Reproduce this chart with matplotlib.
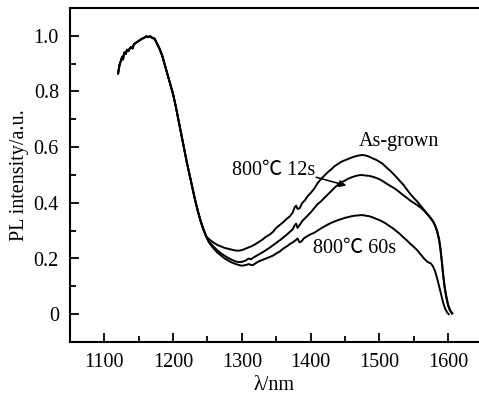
import matplotlib
matplotlib.use("Agg")
import matplotlib.pyplot as plt
from matplotlib.ticker import MultipleLocator, FixedLocator

# ---- data ----
wl_head = [1120, 1122, 1124, 1126, 1127, 1129, 1131, 1133, 1135, 1137, 1139, 1141, 1143,
           1146, 1149, 1152, 1155, 1158, 1161, 1164, 1167, 1170, 1173, 1176, 1180, 1184,
           1188, 1192, 1196, 1200, 1204, 1208, 1212, 1216, 1220, 1224, 1228, 1232, 1236,
           1240, 1244, 1248]
pl_head = [0.865, 0.895, 0.91, 0.925, 0.915, 0.94, 0.935, 0.95, 0.945, 0.955, 0.96, 0.955, 0.97,
           0.975, 0.98, 0.985, 0.99, 0.993, 0.998, 0.996, 0.998, 0.992, 0.99, 0.975, 0.955, 0.93,
           0.895, 0.86, 0.825, 0.79, 0.745, 0.695, 0.645, 0.595, 0.545, 0.50, 0.455, 0.41, 0.37,
           0.335, 0.305, 0.28]

wl_asgrown = [1252, 1256, 1260, 1265, 1270, 1275, 1280, 1285, 1290, 1295, 1300, 1305, 1310,
              1315, 1320, 1325, 1330, 1335, 1340, 1345, 1350, 1355, 1360, 1365, 1370, 1374,
              1377, 1379, 1381, 1384, 1388, 1392, 1396, 1400, 1405, 1410, 1415, 1420, 1425,
              1430, 1435, 1440, 1445, 1450, 1455, 1460, 1465, 1470, 1475, 1480, 1485, 1490,
              1495, 1500, 1505, 1510, 1515, 1520, 1525, 1530, 1535, 1540, 1545, 1550, 1555,
              1560, 1565, 1570, 1575, 1578, 1581, 1584, 1587, 1589, 1591, 1593, 1595, 1597,
              1600, 1603, 1606]
pl_asgrown = [0.27, 0.262, 0.255, 0.248, 0.243, 0.238, 0.235, 0.232, 0.229, 0.228, 0.23, 0.235, 0.24,
              0.245, 0.252, 0.26, 0.268, 0.278, 0.285, 0.295, 0.31, 0.32, 0.33, 0.342, 0.352, 0.365,
              0.385, 0.39, 0.378, 0.38, 0.40, 0.41, 0.425, 0.435, 0.45, 0.47, 0.485, 0.498, 0.51,
              0.52, 0.532, 0.54, 0.548, 0.553, 0.558, 0.563, 0.567, 0.57, 0.572, 0.57, 0.566, 0.56,
              0.555, 0.548, 0.54, 0.528, 0.517, 0.505, 0.492, 0.478, 0.465, 0.448, 0.432, 0.418, 0.405,
              0.39, 0.375, 0.36, 0.345, 0.335, 0.32, 0.30, 0.27, 0.235, 0.19, 0.14, 0.10, 0.07,
              0.035, 0.015, 0.003]

wl_12s = [1252, 1256, 1260, 1265, 1270, 1275, 1280, 1285, 1290, 1295, 1300, 1305, 1310, 1313,
          1316, 1320, 1325, 1330, 1335, 1340, 1345, 1350, 1355, 1360, 1365, 1370, 1374, 1377,
          1379, 1381, 1384, 1388, 1392, 1396, 1400, 1405, 1410, 1415, 1420, 1425, 1430, 1435,
          1440, 1445, 1450, 1455, 1460, 1465, 1470, 1475, 1480, 1485, 1490, 1495, 1500, 1505,
          1510, 1515, 1520, 1525, 1530, 1535, 1540, 1545, 1550, 1555, 1560, 1565, 1570, 1575,
          1578, 1581, 1584, 1587, 1589, 1591, 1593, 1595, 1597, 1600, 1603, 1606]
pl_12s = [0.262, 0.25, 0.24, 0.228, 0.218, 0.21, 0.202, 0.196, 0.19, 0.187, 0.188, 0.192, 0.2, 0.197,
          0.202, 0.208, 0.215, 0.222, 0.23, 0.238, 0.247, 0.256, 0.265, 0.275, 0.285, 0.296, 0.305, 0.32,
          0.325, 0.31, 0.32, 0.335, 0.345, 0.355, 0.365, 0.38, 0.395, 0.405, 0.418, 0.43, 0.442, 0.455,
          0.465, 0.474, 0.48, 0.487, 0.492, 0.496, 0.499, 0.50, 0.498, 0.497, 0.494, 0.49, 0.485, 0.478,
          0.47, 0.462, 0.455, 0.447, 0.437, 0.427, 0.418, 0.408, 0.40, 0.392, 0.383, 0.372, 0.358, 0.343,
          0.333, 0.318, 0.297, 0.265, 0.23, 0.185, 0.135, 0.095, 0.065, 0.03, 0.012, 0.002]

wl_60s = [1252, 1256, 1260, 1265, 1270, 1275, 1280, 1285, 1290, 1295, 1300, 1305, 1310, 1313,
          1316, 1320, 1325, 1330, 1335, 1340, 1345, 1350, 1355, 1360, 1365, 1370, 1374, 1378,
          1381, 1384, 1387, 1390, 1395, 1400, 1405, 1410, 1415, 1420, 1425, 1430, 1435, 1440,
          1445, 1450, 1455, 1460, 1465, 1470, 1475, 1480, 1485, 1490, 1495, 1500, 1505, 1510,
          1515, 1520, 1525, 1530, 1535, 1540, 1545, 1550, 1555, 1560, 1565, 1570, 1575, 1578,
          1581, 1584, 1587, 1590, 1593, 1596, 1599, 1601]
pl_60s = [0.258, 0.245, 0.233, 0.22, 0.21, 0.2, 0.193, 0.186, 0.181, 0.177, 0.174, 0.176, 0.18, 0.177,
          0.176, 0.183, 0.19, 0.195, 0.2, 0.205, 0.21, 0.218, 0.225, 0.235, 0.243, 0.252, 0.258, 0.265,
          0.272, 0.258, 0.262, 0.272, 0.28, 0.287, 0.292, 0.30, 0.308, 0.315, 0.322, 0.328, 0.333, 0.338,
          0.342, 0.346, 0.349, 0.352, 0.354, 0.355, 0.356, 0.354, 0.352, 0.348, 0.343, 0.338, 0.332, 0.325,
          0.316, 0.308, 0.298, 0.288, 0.276, 0.265, 0.253, 0.242, 0.23, 0.215, 0.2, 0.188, 0.182, 0.172,
          0.155, 0.13, 0.10, 0.07, 0.04, 0.018, 0.005, 0.0]

series_labels = ["As-grown", "800\u2103 12s", "800\u2103 60s"]
x_ticks = [1100, 1200, 1300, 1400, 1500, 1600]
y_ticks = [0, 0.2, 0.4, 0.6, 0.8, 1.0]
y_tick_labels = ["0", "0.2", "0.4", "0.6", "0.8", "1.0"]

FONT = ["Liberation Serif", "Noto Sans CJK SC", "DejaVu Sans"]
plt.rcParams["font.family"] = FONT

fig = plt.figure(figsize=(4.79, 3.95), dpi=100)
ax = fig.add_axes([70 / 479, 1 - 342 / 395, 1 - 70 / 479, (342 - 8) / 395])

lw = 1.4
for wl, pl in [(wl_asgrown, pl_asgrown), (wl_12s, pl_12s), (wl_60s, pl_60s)]:
    ax.plot(wl_head + wl, pl_head + pl, color="black", lw=lw)

ax.set_xlim(1050, 1645)
ax.set_ylim(-0.1, 1.1)

ax.xaxis.set_major_locator(FixedLocator(x_ticks))
ax.xaxis.set_minor_locator(MultipleLocator(50))
ax.yaxis.set_major_locator(FixedLocator(y_ticks))
ax.set_yticklabels(y_tick_labels)
ax.yaxis.set_minor_locator(MultipleLocator(0.1))

for s in ["left", "bottom", "top"]:
    ax.spines[s].set_linewidth(1.5)
ax.spines["right"].set_visible(False)

ax.tick_params(which="both", direction="in", top=False, right=False, width=1.3,
               labelsize=14.5)
ax.tick_params(which="major", length=6.5, pad=8)
ax.tick_params(which="minor", length=4)

ax.set_xlabel("\u03bb/nm", fontsize=14.5, labelpad=3)
ax.set_ylabel("PL intensity/a.u.", fontsize=14.5, labelpad=3)

ax.text(1528, 0.62, series_labels[0], fontsize=14.5, ha="center", va="center")
ax.text(1346, 0.516, series_labels[1], fontsize=14.5, ha="center", va="center")
ax.text(1464, 0.237, series_labels[2], fontsize=14.5, ha="center", va="center")
ax.annotate("", xy=(1452, 0.462), xytext=(1408, 0.492),
            arrowprops=dict(arrowstyle="-|>", color="black", lw=1.1,
                            mutation_scale=10, shrinkA=0, shrinkB=0))

fig.savefig("out.png", dpi=100)
